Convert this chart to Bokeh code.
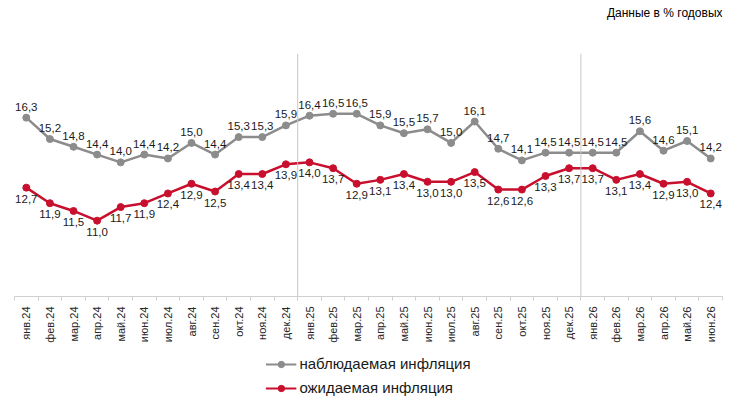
import math
from bokeh.plotting import figure
from bokeh.layouts import column
from bokeh.models import (ColumnDataSource, FixedTicker, Span, Legend, LegendItem, Range1d, Label)
from bokeh.core.properties import value
from bokeh.embed import file_html
from bokeh.resources import INLINE

months = ["янв.24", "фев.24", "мар.24", "апр.24", "май.24", "июн.24", "июл.24", "авг.24",
          "сен.24", "окт.24", "ноя.24", "дек.24", "янв.25", "фев.25", "мар.25", "апр.25",
          "май.25", "июн.25", "июл.25", "авг.25", "сен.25", "окт.25", "ноя.25", "дек.25",
          "янв.26", "фев.26", "мар.26", "апр.26", "май.26", "июн.26"]
observed = [16.3, 15.2, 14.8, 14.4, 14.0, 14.4, 14.2, 15.0, 14.4, 15.3, 15.3, 15.9,
            16.4, 16.5, 16.5, 15.9, 15.5, 15.7, 15.0, 16.1, 14.7, 14.1, 14.5, 14.5,
            14.5, 14.5, 15.6, 14.6, 15.1, 14.2]
expected = [12.7, 11.9, 11.5, 11.0, 11.7, 11.9, 12.4, 12.9, 12.5, 13.4, 13.4, 13.9,
            14.0, 13.7, 12.9, 13.1, 13.4, 13.0, 13.0, 13.5, 12.6, 12.6, 13.3, 13.7,
            13.7, 13.1, 13.4, 12.9, 13.0, 12.4]
year_breaks = [11.5, 23.5]
series_names = ["наблюдаемая инфляция", "ожидаемая инфляция"]
units_note = "Данные в % годовых"

FONT = "Liberation Sans"
GRAY = "#8c8c8c"
RED = "#c8102e"

xs = list(range(len(months)))
src = ColumnDataSource(dict(
    x=xs, obs=observed, exp=expected,
    obs_lbl=[f"{v:.1f}".replace(".", ",") for v in observed],
    exp_lbl=[f"{v:.1f}".replace(".", ",") for v in expected],
))

# top strip with the units note
tf = figure(width=739, height=22, output_backend="svg", toolbar_location=None,
            x_range=Range1d(0, 1), y_range=Range1d(0, 1),
            min_border_left=0, min_border_right=17, min_border_top=0, min_border_bottom=0)
tf.outline_line_color = None
tf.axis.visible = False
tf.grid.visible = False
tf.add_layout(Label(x=1, y=0.45, text=units_note, text_align="right", text_baseline="middle",
                    text_font=FONT, text_font_size="12px", text_color="#000000"))

p = figure(frame_width=708, frame_height=243, output_backend="svg", toolbar_location=None,
           x_range=Range1d(-0.5, len(months) - 0.5), y_range=Range1d(7.1, 19.6),
           min_border_left=14, min_border_right=17, min_border_top=31, min_border_bottom=0)
p.outline_line_color = None
p.grid.visible = False
p.yaxis.visible = False

for b in year_breaks:
    p.add_layout(Span(location=b, dimension="height", line_color="#c8c8c8", line_width=1))

ax = p.xaxis[0]
ax.ticker = FixedTicker(ticks=xs, minor_ticks=[i - 0.5 for i in range(len(months) + 1)])
ax.major_label_overrides = {i: m for i, m in enumerate(months)}
ax.major_label_orientation = math.pi / 2
ax.major_label_text_font = FONT
ax.major_label_text_font_size = "11px"
ax.major_label_text_color = "#262626"
ax.major_label_standoff = 6
ax.major_tick_in = 0
ax.major_tick_out = 0
ax.minor_tick_in = 0
ax.minor_tick_out = 4
ax.minor_tick_line_color = "#d0d0d0"
ax.axis_line_color = "#d0d0d0"

p.line("x", "obs", source=src, line_color=GRAY, line_width=2.5)
p.scatter("x", "obs", source=src, size=7, fill_color=GRAY, line_color=GRAY)
p.line("x", "exp", source=src, line_color=RED, line_width=2.5)
p.scatter("x", "exp", source=src, size=7, fill_color=RED, line_color=RED)

p.text("x", "obs", text="obs_lbl", source=src, text_align="center", text_baseline="bottom",
       y_offset=-7, text_font=value(FONT), text_font_size="11.5px", text_color="#1a1a1a")
p.text("x", "exp", text="exp_lbl", source=src, text_align="center", text_baseline="top",
       y_offset=7, text_font=value(FONT), text_font_size="11.5px", text_color="#1a1a1a")

# legend strip below the chart (its renderers lie outside its visible range)
lf = figure(width=739, height=61, output_backend="svg", toolbar_location=None,
            x_range=Range1d(100, 101), y_range=Range1d(100, 101),
            min_border=0)
lf.outline_line_color = None
lf.axis.visible = False
lf.grid.visible = False
items = []
for name, col, field in zip(series_names, [GRAY, RED], ["obs", "exp"]):
    r1 = lf.line("x", field, source=src, line_color=col, line_width=2)
    r2 = lf.scatter("x", field, source=src, size=4, fill_color=col, line_color=col)
    items.append(LegendItem(label=name, renderers=[r1, r2]))
legend = Legend(items=items, location="top_center", orientation="vertical",
                border_line_alpha=0, background_fill_alpha=0,
                label_text_font=FONT, label_text_font_size="15px", label_text_color="#1a1a1a",
                glyph_width=31, glyph_height=16, spacing=7, padding=0, margin=10,
                label_standoff=3, label_height=16)
lf.add_layout(legend)

layout = column(tf, p, lf, spacing=0)
open("out.html", "w").write(file_html(layout, INLINE))
